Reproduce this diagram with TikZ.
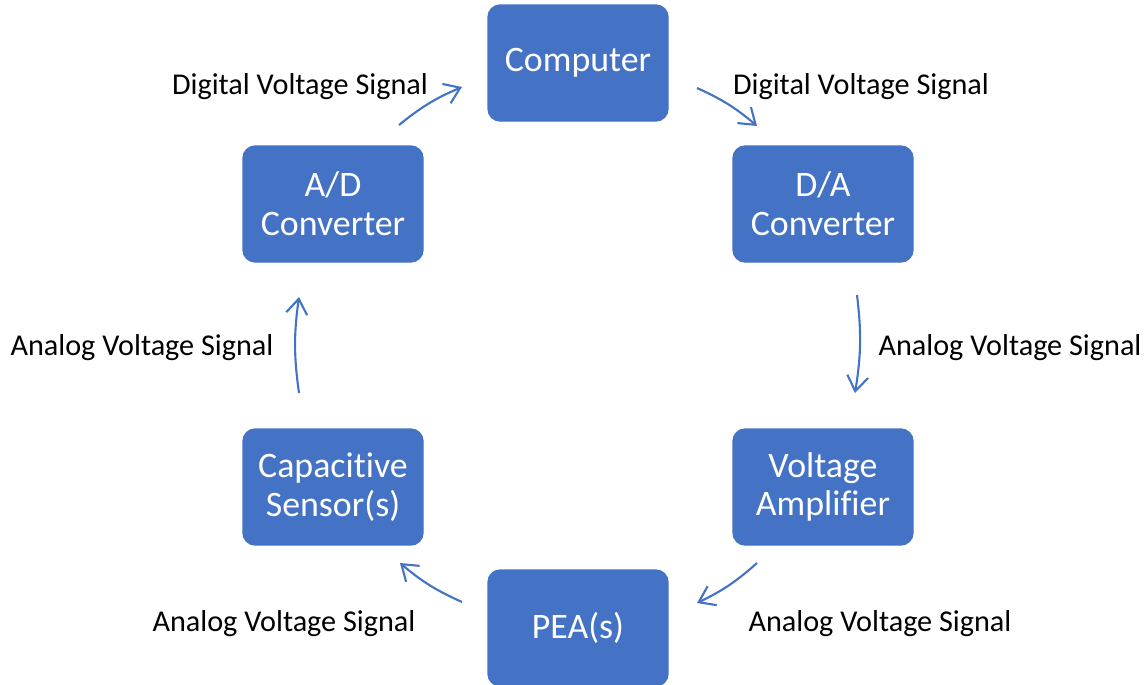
\documentclass[tikz,border=0pt]{standalone}
\usepackage{fontspec}
\setmainfont{Carlito}[Ligatures={NoCommon}]
\usetikzlibrary{arrows.meta}
\definecolor{unitblue}{HTML}{4472C4}

\begin{document}
\begin{tikzpicture}[
      unit/.style={
        rectangle,
        rounded corners=3.5pt,
        fill=unitblue,
        draw=unitblue,
        text=white,
        align=center,
        minimum width=18mm,
        minimum height=11.6mm,
        inner sep=1pt,
        font=\fontsize{10.2}{11}\selectfont
      },
      sig/.style={
        font=\fontsize{8.6}{10}\selectfont,
        inner sep=0pt
      },
      flow/.style={
        draw=unitblue,
        line width=0.6pt,
        -{Straight Barb[length=1.5mm,width=2.1mm]}
      }
    ]
      \useasboundingbox (0,0) rectangle (11.46,-6.84);

      \node[unit] (comp) at (5.78,-0.63) {Computer};
      \node[unit] (da) at (8.23,-2.04) {D/A\\Converter};
      \node[unit] (amp) at (8.23,-4.87) {Voltage\\Amplifier};
      \node[unit] (pea) at (5.78,-6.28) {PEA(s)};
      \node[unit] (sens) at (3.33,-4.87) {Capacitive\\Sensor(s)};
      \node[unit] (ad) at (3.33,-2.04) {A/D\\Converter};

      % free arrow ends
      \coordinate (ad-out) at (3.99,-1.25);
      \coordinate (comp-in) at (4.62,-0.87);
      \coordinate (comp-out) at (6.97,-0.88);
      \coordinate (da-in) at (7.57,-1.26);
      \coordinate (da-out) at (8.57,-2.95);
      \coordinate (amp-in) at (8.55,-3.93);
      \coordinate (amp-out) at (7.57,-5.63);
      \coordinate (pea-in) at (6.97,-6.03);
      \coordinate (pea-out) at (4.62,-6.02);
      \coordinate (sens-in) at (4.00,-5.63);
      \coordinate (sens-out) at (2.99,-3.93);
      \coordinate (ad-in) at (2.99,-2.97);

      \draw[flow] (ad-out) to[bend left=8] (comp-in);
      \draw[flow] (comp-out) to[bend left=8] (da-in);
      \draw[flow] (da-out) to[bend left=8] (amp-in);
      \draw[flow] (amp-out) to[bend left=8] (pea-in);
      \draw[flow] (pea-out) to[bend left=8] (sens-in);
      \draw[flow] (sens-out) to[bend left=8] (ad-in);

      \node[sig] (s1) at (3.00,-0.87) {Digital Voltage Signal};
      \node[sig] (s2) at (8.61,-0.87) {Digital Voltage Signal};
      \node[sig] (s3) at (10.10,-3.48) {Analog Voltage Signal};
      \node[sig] (s4) at (8.80,-6.24) {Analog Voltage Signal};
      \node[sig] (s5) at (2.84,-6.24) {Analog Voltage Signal};
      \node[sig] (s6) at (1.42,-3.48) {Analog Voltage Signal};
    \end{tikzpicture}
\end{document}
